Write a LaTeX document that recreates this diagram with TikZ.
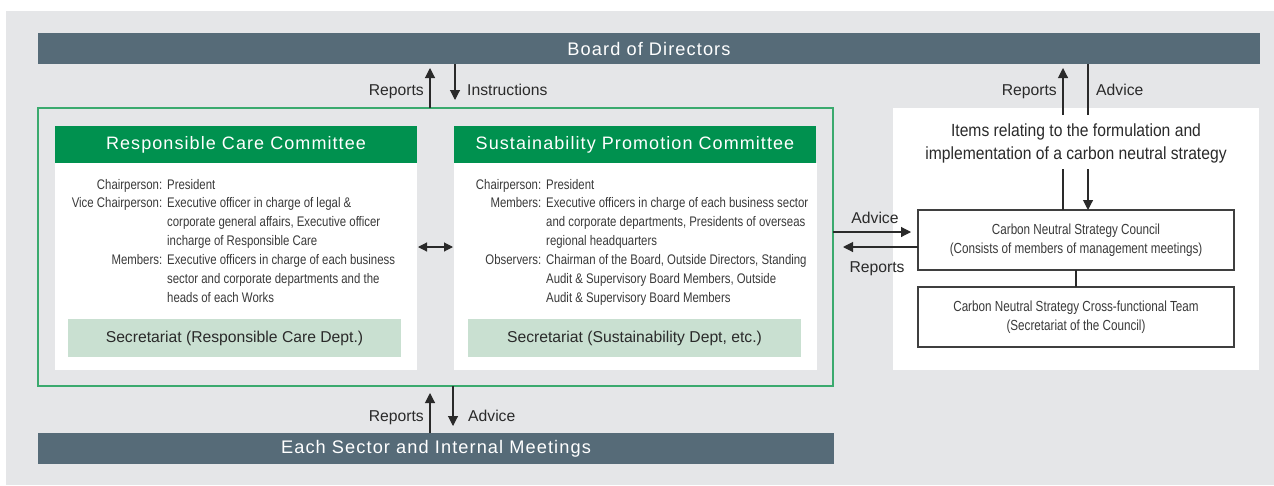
\documentclass[tikz,border=0pt]{standalone}
\usepackage{fontspec}
\setmainfont{Liberation Sans}
\newfontfamily\trackfont{Liberation Sans}[LetterSpace=6]
\newfontfamily\narrowfont{Liberation Sans}[FakeStretch=0.82]
\newfontfamily\itemsfont{Liberation Sans}[FakeStretch=0.89]
\newfontfamily\councilfont{Liberation Sans}[FakeStretch=0.80]
\usetikzlibrary{arrows.meta}

\definecolor{panelgray}{HTML}{E5E6E8}
\definecolor{slate}{HTML}{566B78}
\definecolor{rcgreen}{HTML}{00914F}
\definecolor{groupline}{HTML}{3BAA6E}
\definecolor{secfill}{HTML}{C9E0D1}
\definecolor{ink}{HTML}{2A2A2A}
\definecolor{bodytext}{HTML}{3A3A3A}

\begin{document}
\begin{tikzpicture}[x=1pt,y=-1pt,
  box/.style={inner sep=0pt, outer sep=0pt, anchor=north west},
  bar/.style={box, fill=slate, text=white, font=\trackfont\fontsize{18.2}{22}\selectfont},
  hdr/.style={box, fill=rcgreen, text=white, font=\trackfont\fontsize{18}{22}\selectfont},
  body/.style={box, fill=white},
  sec/.style={box, fill=secfill, text=ink, font=\fontsize{15.7}{19}\selectfont},
  members/.style={inner sep=0pt, anchor=base west, text=bodytext, font=\narrowfont\fontsize{13.9}{18.9}\selectfont},
  cbox/.style={box, draw=ink!90, line width=1.2pt, fill=white, text=bodytext, font=\councilfont\fontsize{14.6}{19}\selectfont},
  lbl/.style={inner sep=0pt, text=ink, font=\fontsize{15.7}{18}\selectfont},
  line/.style={draw=ink, line width=1.1pt},
  arr/.style={line, -{Triangle[width=10pt,length=10pt]}},
  dbl/.style={line, {Triangle[width=9pt,length=9pt]}-{Triangle[width=9pt,length=9pt]}}
]
\useasboundingbox (0,0) rectangle (1274,485);
\fill[panelgray] (6,11) rectangle (1274,485);

% top and bottom bars
\node[bar, minimum width=1222pt, minimum height=31pt] (board) at (38,33) {Board of Directors};
\node[bar, minimum width=796pt, minimum height=31pt] (sector) at (38,433) {Each Sector and Internal Meetings};

% committee group
\node[box, draw=groupline, line width=1.2pt, minimum width=795pt, minimum height=278pt] (group) at (38,108) {};

\node[body, minimum width=362pt, minimum height=207pt] (rcbody) at (55,163) {};
\node[hdr, minimum width=362pt, minimum height=37pt] (rchead) at (55,126) {Responsible Care Committee};
\node[sec, minimum width=333pt, minimum height=38pt] (rcsec) at (68,319) {Secretariat (Responsible Care Dept.)};

\node[body, minimum width=363pt, minimum height=207pt] (spbody) at (454,163) {};
\node[hdr, minimum width=362pt, minimum height=37pt] (sphead) at (454,126) {Sustainability Promotion Committee};
\node[sec, minimum width=333pt, minimum height=38pt] (spsec) at (468,319) {Secretariat (Sustainability Dept, etc.)};

\node[members] (rcmembers) at (167,189) {\begin{tabular}[t]{@{}l@{}}
\llap{Chairperson:\hspace{5pt}}President\\
\llap{Vice Chairperson:\hspace{5pt}}Executive officer in charge of legal \&\\
corporate general affairs, Executive officer\\
incharge of Responsible Care\\
\llap{Members:\hspace{5pt}}Executive officers in charge of each business\\
sector and corporate departments and the\\
heads of each Works
\end{tabular}};

\node[members] (spmembers) at (546,189) {\begin{tabular}[t]{@{}l@{}}
\llap{Chairperson:\hspace{5pt}}President\\
\llap{Members:\hspace{5pt}}Executive officers in charge of each business sector\\
and corporate departments, Presidents of overseas\\
regional headquarters\\
\llap{Observers:\hspace{5pt}}Chairman of the Board, Outside Directors, Standing\\
Audit \& Supervisory Board Members, Outside\\
Audit \& Supervisory Board Members
\end{tabular}};

% carbon neutral panel
\node[body, minimum width=366pt, minimum height=262pt] (cnpanel) at (893,108) {};
\node[inner sep=0pt, anchor=base, text=ink, font=\itemsfont\fontsize{17.6}{23}\selectfont] (items) at (1076,136)
  {\begin{tabular}[t]{@{}c@{}}Items relating to the formulation and\\implementation of a carbon neutral strategy\end{tabular}};
\node[cbox, minimum width=316pt, minimum height=60pt] (council) at (918,210)
  {\begin{tabular}{@{}c@{}}Carbon Neutral Strategy Council\\(Consists of members of management meetings)\end{tabular}};
\node[cbox, minimum width=316pt, minimum height=60pt] (team) at (918,287)
  {\begin{tabular}{@{}c@{}}Carbon Neutral Strategy Cross-functional Team\\(Secretariat of the Council)\end{tabular}};

% columns and rows used by the connectors
\coordinate (xrl) at (430,0);
\coordinate (xil) at (455,0);
\coordinate (xal) at (453,0);
\coordinate (xrep) at (1063,0);
\coordinate (xadv) at (1088,0);
\coordinate (midrow) at (0,247);
\coordinate (advrow) at (0,232);
\coordinate (reprow) at (0,247);

% board <-> committees
\draw[arr] (group.north -| xrl) -- ([yshift=-4pt]board.south -| xrl);
\draw[arr] (board.south -| xil) -- ([yshift=8pt]group.north -| xil);
\node[lbl, anchor=base east] (l1) at (424,95) {Reports};
\node[lbl, anchor=base west] (l2) at (467,95) {Instructions};

% committees <-> sectors
\draw[arr] (sector.north -| xrl) -- ([yshift=-7pt]group.south -| xrl);
\draw[arr] (group.south -| xal) -- ([yshift=7pt]sector.north -| xal);
\node[lbl, anchor=base east] (l3) at (424,421) {Reports};
\node[lbl, anchor=base west] (l4) at (468,421) {Advice};

% between the two committees
\draw[dbl] ([xshift=1pt]rcbody.east |- midrow) -- ([xshift=-1pt]spbody.west |- midrow);

% board <-> carbon neutral items
\draw[arr] ([yshift=5pt]items.north -| xrep) -- ([yshift=-4pt]board.south -| xrep);
\draw[line] (board.south -| xadv) -- ([yshift=5pt]items.north -| xadv);
\node[lbl, anchor=base east] (l5) at (1057,95) {Reports};
\node[lbl, anchor=base west] (l6) at (1096,95) {Advice};

% items <-> council
\draw[line] (council.north -| xrep) -- ([yshift=-3pt]items.south -| xrep);
\draw[arr] ([yshift=-3pt]items.south -| xadv) -- (council.north -| xadv);
\draw[line] (council.south) -- (team.north);

% committees <-> council
\draw[arr] (group.east |- advrow) -- ([xshift=-7pt]council.west |- advrow);
\draw[arr] (council.west |- reprow) -- ([xshift=10pt]group.east |- reprow);
\node[lbl, anchor=base] (l7) at (875,223) {Advice};
\node[lbl, anchor=base] (l8) at (877,272) {Reports};
\end{tikzpicture}
\end{document}
